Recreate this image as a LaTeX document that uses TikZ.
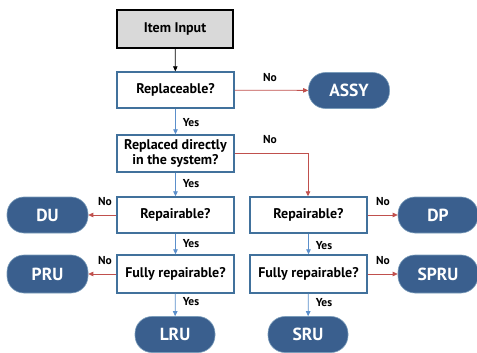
\documentclass[tikz,border=0pt]{standalone}
\usepackage{fontspec}
\setmainfont{PT Sans}
\usetikzlibrary{arrows.meta}
\definecolor{boxblue}{HTML}{41719C}
\definecolor{pillblue}{HTML}{3A5F8E}
\definecolor{yesblue}{HTML}{5B8FCB}
\definecolor{nored}{HTML}{C0504D}
\definecolor{startgray}{HTML}{D9D9D9}
\tikzset{
  qbox/.style={draw=boxblue, line width=1.4pt, fill=white, minimum width=117pt, minimum height=36pt, inner sep=0pt, align=center, font=\fontsize{14}{16}\selectfont\bfseries},
  startbox/.style={draw=black, line width=1.6pt, fill=startgray, minimum width=116pt, minimum height=38pt, inner sep=0pt, font=\fontsize{14}{16}\selectfont\bfseries},
  pill/.style={draw=boxblue!70, line width=0.6pt, fill=pillblue, text=white, rounded corners=17pt, minimum width=81pt, minimum height=36pt, inner sep=0pt, font=\fontsize{17.5}{19}\selectfont\bfseries},
  yesarrow/.style={draw=yesblue, line width=0.8pt, -{Triangle[length=5pt,width=4.5pt]}},
  noarrow/.style={draw=nored, line width=0.8pt, -{Triangle[length=5pt,width=4.5pt]}},
  startarrow/.style={draw=black, line width=0.8pt, -{Triangle[length=5pt,width=4.5pt]}},
  lbl/.style={font=\fontsize{11.5}{13}\selectfont\bfseries, inner sep=1pt},
}
\begin{document}
\begin{tikzpicture}[x=1pt,y=-1pt]
\useasboundingbox (0,0) rectangle (477,353);
\node[startbox] (in) at (175,29) {Item Input};
\node[qbox] (rep) at (175.5,90) {Replaceable?};
\node[qbox, minimum height=37pt] (rd) at (175.5,153.5) {Replaced directly\\[-1pt]in the system?};
\node[pill] (assy) at (349,90.5) {ASSY};
\node[qbox] (repL) at (175.5,215) {Repairable?};
\node[pill] (du) at (47.5,215) {DU};
\node[qbox] (repR) at (308.5,215) {Repairable?};
\node[pill, minimum width=80pt] (dp) at (438,215) {DP};
\node[qbox, minimum height=38pt] (fl) at (175.5,274) {Fully repairable?};
\node[pill, minimum height=38pt] (pru) at (47.5,274) {PRU};
\node[qbox, minimum height=38pt] (fr) at (308.5,274) {Fully repairable?};
\node[pill, minimum width=80pt, minimum height=38pt] (spru) at (438,274) {SPRU};
\node[pill, minimum width=80pt] (lru) at (175,334.5) {LRU};
\node[pill, minimum width=80pt] (sru) at (308,334.5) {SRU};
\coordinate (corner) at (308,153);

\draw[startarrow] (in) -- (rep);
\draw[yesarrow] (rep) -- (rd);
\draw[noarrow] (rep) -- (assy);
\draw[yesarrow] (rd) -- (repL);
\draw[noarrow] (rd.east |- corner) -- (corner) -- (repR.north -| corner);
\draw[noarrow] (repL) -- (du);
\draw[yesarrow] (repL) -- (fl);
\draw[noarrow] (repR) -- (dp);
\draw[yesarrow] (repR) -- (fr);
\draw[noarrow] (fl) -- (pru);
\draw[yesarrow] (fl) -- (lru);
\draw[noarrow] (fr) -- (spru);
\draw[yesarrow] (fr) -- (sru);

\node[lbl] (l1) at (270,78) {No};
\node[lbl] (l2) at (191,123) {Yes};
\node[lbl] (l3) at (270,140) {No};
\node[lbl] (l4) at (191,184) {Yes};
\node[lbl] (l5) at (105,202) {No};
\node[lbl] (l6) at (383,202) {No};
\node[lbl] (l7) at (191,244) {Yes};
\node[lbl] (l8) at (324,246) {Yes};
\node[lbl] (l9) at (105,261) {No};
\node[lbl] (l10) at (383,261) {No};
\node[lbl] (l11) at (191,302) {Yes};
\node[lbl] (l12) at (324,303) {Yes};
\end{tikzpicture}
\end{document}
